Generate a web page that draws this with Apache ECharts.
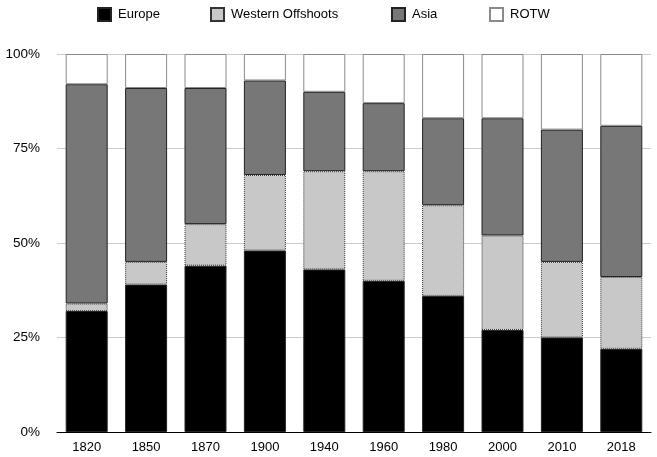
<!DOCTYPE html>
<html>
<head>
<meta charset="utf-8">
<script src="https://cdn.jsdelivr.net/npm/echarts@6/dist/echarts.min.js"></script>
<style>html,body{margin:0;padding:0;background:#fff}#c{width:657px;height:457px}</style>
</head>
<body>
<div id="c"></div>
<script>
const years = ['1820','1850','1870','1900','1940','1960','1980','2000','2010','2018'];
const europe = [32, 39, 44, 48, 43, 40, 36, 27, 25, 22];
const westernOffshoots = [2, 6, 11, 20, 26, 29, 24, 25, 20, 19];
const asia = [58, 46, 36, 25, 21, 18, 23, 31, 35, 40];
const rotw = [8, 9, 9, 7, 10, 13, 17, 17, 20, 19];
const yTicks = [0, 25, 50, 75, 100];

const font = 'Liberation Sans, Arial, Helvetica, sans-serif';
const chart = echarts.init(document.getElementById('c'), null, {renderer: 'canvas'});

const styles = {
  'Europe': {color: '#000000', borderColor: '#222', borderWidth: 1, borderType: 'solid'},
  'Western Offshoots': {color: '#c8c8c8', borderColor: '#333', borderWidth: 1, borderType: [1, 1]},
  'Asia': {color: '#777777', borderColor: '#222', borderWidth: 1, borderType: 'solid'},
  'ROTW': {color: '#ffffff', borderColor: '#8a8a8a', borderWidth: 1, borderType: 'solid'}
};
const seriesData = [['Europe', europe], ['Western Offshoots', westernOffshoots], ['Asia', asia], ['ROTW', rotw]];
const legendLeft = [97, 210, 391, 489];

chart.setOption({
  animation: false,
  textStyle: {fontFamily: font},
  legend: seriesData.map((s, i) => ({
    data: [s[0]],
    left: legendLeft[i],
    top: 7,
    padding: 0,
    itemWidth: 13,
    itemHeight: 13,
    itemGap: 0,
    icon: 'rect',
    textStyle: {fontFamily: font, fontSize: 13, color: '#000', padding: [0, 0, 0, 2]},
    selectedMode: false
  })),
  grid: {left: 57, right: 6, top: 54, bottom: 25, containLabel: false},
  xAxis: {
    type: 'category',
    data: years,
    axisLine: {lineStyle: {color: '#000', width: 1}},
    axisTick: {show: false},
    axisLabel: {color: '#000', fontSize: 13, fontFamily: font, margin: 9}
  },
  yAxis: {
    type: 'value',
    min: yTicks[0],
    max: yTicks[yTicks.length - 1],
    interval: 25,
    axisLine: {show: false},
    axisTick: {show: false},
    splitLine: {lineStyle: {color: '#cccccc', width: 1}},
    axisLabel: {color: '#000', fontSize: 13.5, fontFamily: font, margin: 17, padding: [4, 0, 0, 0], formatter: v => v + '%'}
  },
  series: seriesData.map(s => ({
    name: s[0],
    type: 'bar',
    stack: 'total',
    barWidth: 42,
    data: s[1],
    itemStyle: styles[s[0]]
  }))
});
</script>
</body>
</html>
